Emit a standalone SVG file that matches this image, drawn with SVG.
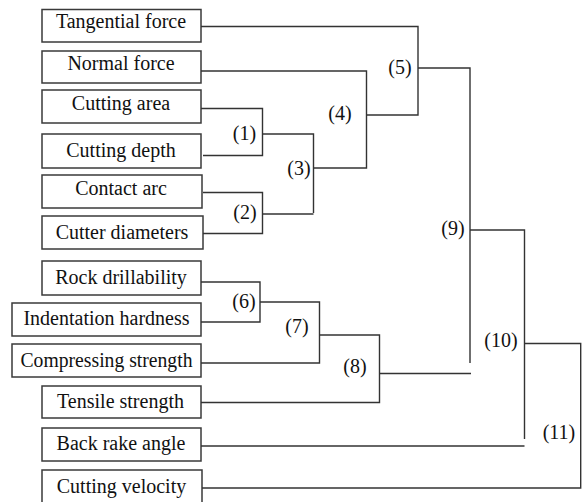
<svg xmlns="http://www.w3.org/2000/svg" width="583" height="502" viewBox="0 0 583 502">
<style>
.box{fill:#fff;stroke:#3a3a3a;stroke-width:1.5}
.t{font-family:"Liberation Serif","Times New Roman",serif;font-size:20px;fill:#111;text-anchor:middle}
.l{font-family:"Liberation Serif","Times New Roman",serif;font-size:20px;fill:#111;text-anchor:middle}
.c{fill:none;stroke:#333;stroke-width:1.4}
</style>
<rect width="583" height="502" fill="#fff"/>
<g id="n-tangential"><rect class="box" x="42" y="9.5" width="159" height="32.5"/><text class="t" x="121" y="28">Tangential force</text></g>
<g id="n-normal"><rect class="box" x="42" y="51" width="159" height="32"/><text class="t" x="121" y="69.5">Normal force</text></g>
<g id="n-area"><rect class="box" x="42" y="90" width="159" height="33"/><text class="t" x="121" y="109.5">Cutting area</text></g>
<g id="n-depth"><rect class="box" x="42" y="134" width="159" height="34"/><text class="t" x="121" y="157">Cutting depth</text></g>
<g id="n-arc"><rect class="box" x="42" y="175" width="160" height="33"/><text class="t" x="121" y="194.5">Contact arc</text></g>
<g id="n-diam"><rect class="box" x="42" y="216" width="161" height="33"/><text class="t" x="122" y="238.5">Cutter diameters</text></g>
<g id="n-drill"><rect class="box" x="42" y="261" width="159" height="34"/><text class="t" x="121" y="283.5">Rock drillability</text></g>
<g id="n-indent"><rect class="box" x="12" y="303" width="189" height="33"/><text class="t" x="106.5" y="324.5">Indentation hardness</text></g>
<g id="n-compress"><rect class="box" x="12" y="344" width="189" height="33"/><text class="t" x="106.5" y="366.5" textLength="172" lengthAdjust="spacingAndGlyphs">Compressing strength</text></g>
<g id="n-tensile"><rect class="box" x="42" y="386" width="159" height="32"/><text class="t" x="120.5" y="407.5">Tensile strength</text></g>
<g id="n-rake"><rect class="box" x="42" y="428" width="159" height="33"/><text class="t" x="121" y="450">Back rake angle</text></g>
<g id="n-velocity"><rect class="box" x="42" y="470" width="160" height="34"/><text class="t" x="121.5" y="493">Cutting velocity</text></g>
<g id="connectors">
<path class="c" d="M201 26.5H418V115H366.5"/>
<path class="c" d="M201 71H366.5V168H313"/>
<path class="c" d="M201 108.5H262.5V155.5H203"/>
<path class="c" d="M262.5 134H313.5V213"/>
<path class="c" d="M203 192.5H262.5V233.5H203"/>
<path class="c" d="M262.5 214H313.5"/>
<path class="c" d="M418 68H470V363"/>
<path class="c" d="M201 282H260V322H201"/>
<path class="c" d="M260 302H319.5V363H201"/>
<path class="c" d="M319.5 335H379.5V402.5H201"/>
<path class="c" d="M379.5 373.5H471"/>
<path class="c" d="M470 230H524.5V439"/>
<path class="c" d="M201 446H524.5"/>
<path class="c" d="M524.5 343.5H580.7V488H202"/>
</g>
<g id="labels">
<text class="l" x="244.5" y="140">(1)</text>
<text class="l" x="245" y="219">(2)</text>
<text class="l" x="299" y="175">(3)</text>
<text class="l" x="340" y="120">(4)</text>
<text class="l" x="400" y="74">(5)</text>
<text class="l" x="244" y="308">(6)</text>
<text class="l" x="297" y="333">(7)</text>
<text class="l" x="355" y="373">(8)</text>
<text class="l" x="453" y="235">(9)</text>
<text class="l" x="501" y="347">(10)</text>
<text class="l" x="559" y="439">(11)</text>
</g>
</svg>
